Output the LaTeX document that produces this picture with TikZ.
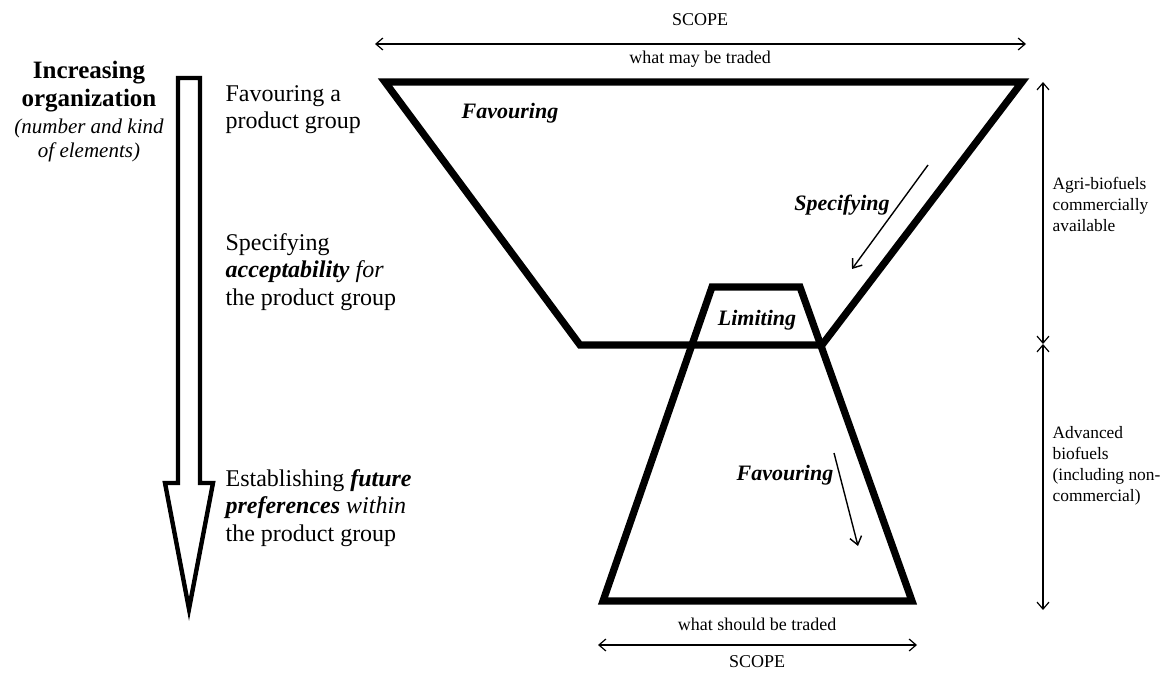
\documentclass[tikz,border=0pt]{standalone}
\usepackage{fontspec}
\setmainfont{Liberation Serif}
\usetikzlibrary{arrows.meta, positioning, calc}

\begin{document}
\begin{tikzpicture}[x=0.5pt, y=-0.5pt, line width=0.6pt]
  \tikzstyle{funnel}=[line width=3.6pt, line join=miter]%
  \tikzstyle{span}=[{Straight Barb[length=3.5pt,width=6pt]}-{Straight Barb[length=3.5pt,width=6pt]}]%
  \tikzstyle{flow}=[-{Straight Barb[length=4pt,width=6pt]}, line width=0.7pt]%
  \tikzstyle{side}=[inner sep=0pt, anchor=west, align=left,
    font=\fontsize{12}{13.6}\selectfont]%
  \tikzstyle{note}=[inner sep=0pt, anchor=west, align=left,
    font=\fontsize{8.7}{10.5}\selectfont]%
  \tikzstyle{scopetxt}=[inner sep=0pt, font=\fontsize{9}{10.5}\selectfont]%
  \tikzstyle{inner}=[inner sep=0pt, font=\fontsize{11}{13}\selectfont\bfseries\itshape]%

  \useasboundingbox (0,0) rectangle (1176,673);

  % Upper funnel
  \coordinate (ftl) at (385,82);
  \coordinate (ftr) at (1022,82);
  \coordinate (fbr) at (822,345);
  \coordinate (fbl) at (580,345);
  \draw[funnel] (ftl) -- (ftr) -- (fbr) -- (fbl) -- cycle;

  % Lower trapezoid (sticks through the funnel bottom)
  \coordinate (ttl) at (712,287);
  \coordinate (ttr) at (800,287);
  \coordinate (tbr) at (912,601);
  \coordinate (tbl) at (603,601);
  \draw[funnel] (ttl) -- (ttr) -- (tbr) -- (tbl) -- cycle;

  %% Scope arrows
  % top
  \coordinate (stl) at (375,44);
  \coordinate (str) at (1026,44);
  \draw[span] (stl) -- (str);
  \node[scopetxt] (scopeA) at (700,20) {SCOPE};
  \node[scopetxt] (mayA) at (700,59) {what may be traded};
  % bottom
  \coordinate (sbl) at (598,645);
  \coordinate (sbr) at (917,645);
  \draw[span] (sbl) -- (sbr);
  \node[scopetxt] (shouldB) at (757,624) {what should be traded};
  \node[scopetxt] (scopeB) at (757,662) {SCOPE};

  %% Right hand ranges
  \coordinate (rt) at (1043,82);
  \coordinate (rm) at (1043,344);
  \coordinate (rb) at (1043,610);
  \draw[span] (rt) -- (rm);
  \draw[span] (rm) -- (rb);
  \node[note] (agri) at (1052,204) {Agri-biofuels\\commercially\\available};
  \node[note] (adv) at (1052,466) {Advanced\\biofuels\\(including non-\\commercial)};

  %% Labels inside the shapes
  \node[inner] (favA) at (510,113) {Favouring};
  \node[inner] (spec) at (842,205) {Specifying};
  \node[inner] (limit) at (757,320) {Limiting};
  \node[inner] (favB) at (785,475) {Favouring};
  \coordinate (sA) at (928,165);
  \coordinate (sB) at (852,269);
  \draw[flow] (sA) -- (sB);
  \coordinate (fA) at (834,453);
  \coordinate (fB) at (858,546);
  \draw[flow] (fA) -- (fB);

  %% Left: big hollow arrow
  \draw[line width=2.2pt, line join=miter] (178,78) -- (200,78) -- (200,483)
    -- (213,483) -- (189,609) -- (165,483) -- (178,483) -- cycle;
  \node[inner sep=0pt, align=center, font=\fontsize{12.5}{14}\selectfont\bfseries]
    (incr) at (89,87) {Increasing\\organization};
  \node[inner sep=0pt, align=center, font=\fontsize{10.5}{12}\selectfont\itshape,
    below=2.5pt of incr] (elem) {(number and kind\\of elements)};

  % steps
  \node[side] (stepA) at (225,110) {Favouring a\\product group};
  \node[side] (stepB) at (225,272) {Specifying\\\textbf{\textit{acceptability}} \textit{for}\\the product group};
  \node[side] (stepC) at (225,508) {Establishing \textbf{\textit{future}}\\\textbf{\textit{preferences}} \textit{within}\\the product group};
\end{tikzpicture}
\end{document}
